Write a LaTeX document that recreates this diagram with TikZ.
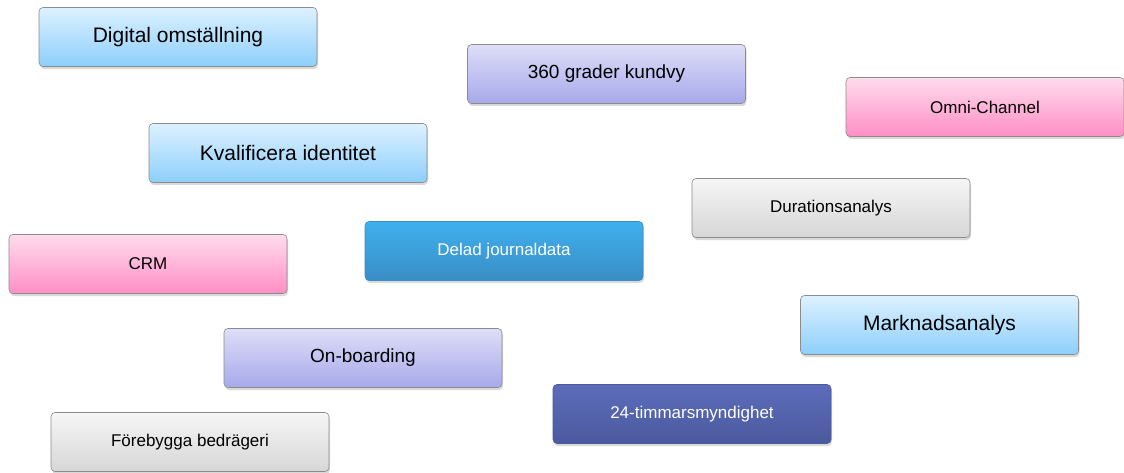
\documentclass[tikz,border=0pt]{standalone}
\usepackage{fontspec}
\setmainfont{Liberation Sans}
\usetikzlibrary{shadows}
\tikzset{
  tag/.style={draw=black!45, line width=0.6pt, rounded corners=4pt,
    minimum width=278pt, minimum height=59pt, inner sep=0pt,
    drop shadow={shadow xshift=1pt, shadow yshift=-2.5pt, opacity=0.3}},
  skyblue/.style={tag, top color=sky1, bottom color=sky2},
  lavender/.style={tag, top color=lav1, bottom color=lav2},
  rosa/.style={tag, top color=pink1, bottom color=pink2},
  grey/.style={tag, top color=grey1, bottom color=grey2},
  ocean/.style={tag, draw=ocean2, top color=ocean1, bottom color=ocean2, text=white},
  navy/.style={tag, draw=navy2, top color=navy1, bottom color=navy2, text=white},
  big/.style={font=\fontsize{21}{24}\selectfont},
  mid/.style={font=\fontsize{19}{22}\selectfont},
  small/.style={font=\fontsize{17}{20}\selectfont}
}
\definecolor{sky1}{HTML}{DDF1FF}
\definecolor{sky2}{HTML}{8DCFFC}
\definecolor{lav1}{HTML}{DEDEF8}
\definecolor{lav2}{HTML}{A7A9EA}
\definecolor{pink1}{HTML}{FFDCEC}
\definecolor{pink2}{HTML}{FF8EC6}
\definecolor{grey1}{HTML}{F6F6F6}
\definecolor{grey2}{HTML}{D6D6D6}
\definecolor{ocean1}{HTML}{3FB0EE}
\definecolor{ocean2}{HTML}{3A8DC6}
\definecolor{navy1}{HTML}{5C6CBA}
\definecolor{navy2}{HTML}{4B5A9E}
\begin{document}
\begin{tikzpicture}[x=1pt, y=1pt]
  \useasboundingbox (0,0) rectangle (1124,-473);
  % upper row
  \node[skyblue, big] at(178,-37)(digital){Digital omställning};
  \node[lavender, mid] at(606.5,-74)(kundvy){360 grader kundvy};
  \node[rosa, small] at(985,-107)(omni){Omni-Channel};
  \node[skyblue, big] at(288,-153)(identitet){Kvalificera identitet};
  % middle row
  \node[grey, small] at(831,-208)(duration){Durationsanalys};
  \node[rosa, small] at(148,-264)(crm){CRM};
  \node[ocean, small] at(504,-251)(journal){Delad journaldata};
  \node[skyblue, big] at(939.5,-325)(marknad){Marknadsanalys};
  % lower row
  \node[lavender, mid] at(363,-358)(onboard){On-boarding};
  \node[navy, small] at(692,-414)(myndighet){24-timmarsmyndighet};
  \node[grey, small] at(190,-442)(bedrageri){Förebygga bedrägeri};
\end{tikzpicture}
\end{document}
